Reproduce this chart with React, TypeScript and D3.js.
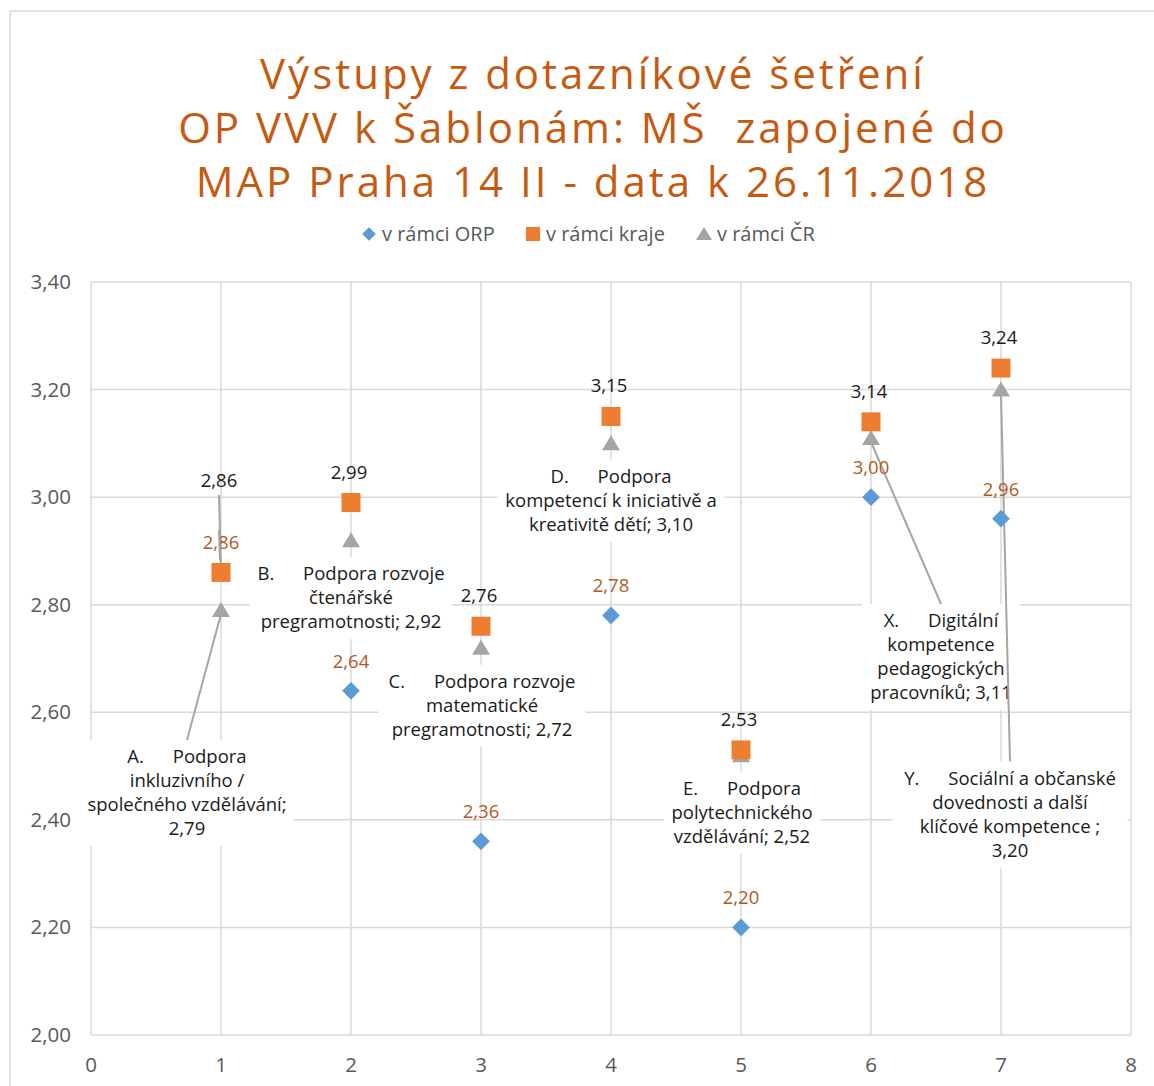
import React from 'react';
import * as d3 from 'd3';

// data
const categories = [1, 2, 3, 4, 5, 6, 7];
const orpValues = [2.86, 2.64, 2.36, 2.78, 2.2, 3.0, 2.96];
const krajValues = [2.86, 2.99, 2.76, 3.15, 2.53, 3.14, 3.24];
const crValues = [2.79, 2.92, 2.72, 3.1, 2.52, 3.11, 3.2];
const crLabels = [
  ['A.      Podpora', 'inkluzivního /', 'společného vzdělávání;', '2,79'],
  ['B.      Podpora rozvoje', 'čtenářské', 'pregramotnosti; 2,92'],
  ['C.      Podpora rozvoje', 'matematické', 'pregramotnosti; 2,72'],
  ['D.      Podpora', 'kompetencí k iniciativě a', 'kreativitě dětí; 3,10'],
  ['E.      Podpora', 'polytechnického', 'vzdělávání; 2,52'],
  ['X.      Digitální', 'kompetence', 'pedagogických', 'pracovníků; 3,11'],
  ['Y.      Sociální a občanské', 'dovednosti a další', 'klíčové kompetence ;', '3,20'],
];
const seriesNames = ['v rámci ORP', 'v rámci kraje', 'v rámci ČR'];
const titleLines = [
  'Výstupy z dotazníkové šetření',
  'OP VVV k Šablonám: MŠ  zapojené do',
  'MAP Praha 14 II - data k 26.11.2018',
];
const yTicks = [2.0, 2.2, 2.4, 2.6, 2.8, 3.0, 3.2, 3.4];
const xTicks = [0, 1, 2, 3, 4, 5, 6, 7, 8];

// label placement (pixel offsets from the ČR point): box centre dx, box top dy, box width, leader
const crLayout = [
  { dx: -34, dy: 130, w: 213, leader: true },
  { dx: 0, dy: 17, w: 202, leader: false },
  { dx: 1, dy: 17, w: 207, leader: false },
  { dx: 0, dy: 17, w: 227, leader: false },
  { dx: 1, dy: 17, w: 156, leader: false },
  { dx: 70, dy: 166, w: 158, leader: true },
  { dx: 9, dy: 372, w: 235, leader: true },
];

const W = 1154;
const H = 1086;
const FONT = "'Open Sans', 'DejaVu Sans', sans-serif";
const GRID = '#D9D9D9';
const BLUE = '#5B9BD5';
const ORANGE = '#ED7D31';
const GRAY = '#A5A5A5';
const LABEL_BROWN = '#B05A26';

const fmt = (v: number) => v.toFixed(2).replace('.', ',');

export default function App() {
  const x = d3.scaleLinear().domain([0, 8]).range([91, 1131]);
  const y = d3.scaleLinear().domain([2.0, 3.4]).range([1035, 282]);

  const diamond = d3.symbol().type(d3.symbolDiamond2).size(200)() as string;
  const square = d3.symbol().type(d3.symbolSquare).size(361)() as string;
  const tri = 'M0,-8L9,7L-9,7Z';
  const diamondSm = d3.symbol().type(d3.symbolDiamond2).size(120)() as string;
  const squareSm = d3.symbol().type(d3.symbolSquare).size(200)() as string;
  const triSm = 'M0,-7L8,6L-8,6Z';

  return (
    <svg width={W} height={H} style={{ position: 'absolute', left: 0, top: 0, background: '#fff' }} fontFamily={FONT}>
      <rect x={10} y={11} width={W + 20} height={H + 20} fill="#fff" stroke={GRID} strokeWidth={1.5} />

      {titleLines.map((t, i) => (
        <text key={i} x={593} y={89 + i * 54} textAnchor="middle" fontSize={42} letterSpacing={3.0} fill="#C55A11" style={{ whiteSpace: 'pre' }}>
          {t}
        </text>
      ))}

      {/* legend */}
      <g fontSize={20} fill="#595959">
        <path d={diamondSm} transform="translate(369,234)" fill={BLUE} />
        <text x={382} y={241}>{seriesNames[0]}</text>
        <path d={squareSm} transform="translate(533,234)" fill={ORANGE} />
        <text x={546} y={241}>{seriesNames[1]}</text>
        <path d={triSm} transform="translate(704,234)" fill={GRAY} />
        <text x={717} y={241}>{seriesNames[2]}</text>
      </g>

      {/* gridlines */}
      <g stroke={GRID} strokeWidth={1.5}>
        {yTicks.map((t) => (
          <line key={'h' + t} x1={x(0)} x2={x(8)} y1={y(t)} y2={y(t)} />
        ))}
        {xTicks.map((t) => (
          <line key={'v' + t} x1={x(t)} x2={x(t)} y1={y(3.4)} y2={y(2.0)} />
        ))}
      </g>

      {/* axis labels */}
      <g fontSize={20.5} fill="#595959">
        {yTicks.map((t) => (
          <text key={'yl' + t} x={71} y={y(t) + 7} textAnchor="end">{fmt(t)}</text>
        ))}
        {xTicks.map((t) => (
          <text key={'xl' + t} x={x(t)} y={1072} textAnchor="middle">{t}</text>
        ))}
      </g>

      {/* ČR category labels with white boxes */}
      {categories.map((c, i) => {
        const px = x(c);
        const py = y(crValues[i]);
        const l = crLayout[i];
        const lines = crLabels[i];
        const bx = px + l.dx;
        const by = py + l.dy;
        const bh = lines.length * 24 + 10;
        return (
          <g key={'cl' + c}>
            <rect x={bx - l.w / 2} y={by} width={l.w} height={bh} fill="#fff" />
            {l.leader && (
              <line x1={bx} y1={by} x2={px} y2={py + 4} stroke={GRAY} strokeWidth={2} />
            )}
            {lines.map((s, j) => (
              <text key={j} x={bx} y={by + 23 + j * 24} textAnchor="middle" fontSize={18.5} fill="#1a1a1a" style={{ whiteSpace: 'pre' }}>
                {s}
              </text>
            ))}
          </g>
        );
      })}

      {/* leader for kraje label at category 1 */}
      <line x1={x(1) - 2} y1={495} x2={x(1)} y2={y(krajValues[0])} stroke={GRAY} strokeWidth={2} />

      {/* markers */}
      {categories.map((c, i) => (
        <path key={'cr' + c} d={tri} transform={`translate(${x(c)},${y(crValues[i])})`} fill={GRAY} />
      ))}
      {categories.map((c, i) => (
        <path key={'orp' + c} d={diamond} transform={`translate(${x(c)},${y(orpValues[i])})`} fill={BLUE} />
      ))}
      {categories.map((c, i) => (
        <path key={'kr' + c} d={square} transform={`translate(${x(c)},${y(krajValues[i])})`} fill={ORANGE} />
      ))}

      {/* value labels */}
      <g fontSize={18.5} textAnchor="middle">
        {categories.map((c, i) => (
          <text key={'orpl' + c} x={x(c)} y={y(orpValues[i]) - 23} fill={LABEL_BROWN}>{fmt(orpValues[i])}</text>
        ))}
        {categories.map((c, i) => (
          <text key={'krl' + c} x={x(c) - 2} y={i === 0 ? 487 : y(krajValues[i]) - 24} fill="#1a1a1a">{fmt(krajValues[i])}</text>
        ))}
      </g>
      <line x1={x(1) - 2} y1={530} x2={x(1) - 1} y2={560} stroke={GRAY} strokeWidth={2} />
    </svg>
  );
}
